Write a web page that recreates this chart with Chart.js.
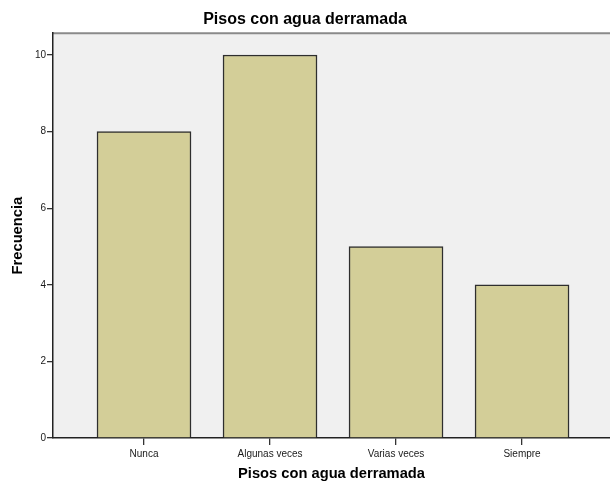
<!DOCTYPE html>
<html><head><meta charset="utf-8">
<script src="https://cdn.jsdelivr.net/npm/chart.js@4.4.0/dist/chart.umd.min.js"></script>
<style>html,body{margin:0;padding:0;background:#fff;}</style>
</head><body>
<canvas id="c" width="610" height="483"></canvas>
<script>
const categories = ['Nunca', 'Algunas veces', 'Varias veces', 'Siempre'];
const frequencies = [8, 10, 5, 4];
const yTickValues = [0, 2, 4, 6, 8, 10];
const chartTitle = 'Pisos con agua derramada';
const xAxisTitle = 'Pisos con agua derramada';
const yAxisTitle = 'Frecuencia';

const FONT = "Arial, 'Liberation Sans', sans-serif";

const bgPlugin = {
  id: 'plotBg',
  beforeDraw(chart) {
    const {ctx, chartArea: a} = chart;
    ctx.save();
    ctx.fillStyle = '#f0f0f0';
    ctx.fillRect(a.left, a.top, a.right - a.left, a.bottom - a.top);
    ctx.strokeStyle = '#8a8a8a';
    ctx.lineWidth = 2;
    ctx.beginPath();
    ctx.moveTo(a.left, a.top);
    ctx.lineTo(a.right, a.top);
    ctx.stroke();
    ctx.restore();
  }
};

new Chart(document.getElementById('c'), {
  type: 'bar',
  data: {
    datasets: [{
      data: frequencies.map((v, i) => ({x: i, y: v})),
      backgroundColor: '#d3ce98',
      borderColor: '#2e2e2e',
      borderWidth: 1.5,
      barThickness: 94
    }]
  },
  options: {
    responsive: false,
    animation: false,
    devicePixelRatio: 1,
    layout: {padding: 0},
    plugins: {
      legend: {display: false},
      tooltip: {enabled: false},
      title: {
        display: true,
        text: chartTitle,
        color: '#000',
        font: {family: FONT, size: 16, weight: 'bold'},
        padding: {top: 10, bottom: 4}
      }
    },
    scales: {
      x: {
        type: 'linear',
        offset: false,
        min: -0.7222,
        max: 3.698,
        afterBuildTicks: s => { s.ticks = categories.map((_, i) => ({value: i})); },
        afterFit: s => { s.height = 45; },
        ticks: {
          callback: v => categories[v] ?? '',
          color: '#1a1a1a',
          font: {family: FONT, size: 10},
          padding: 3,
          maxRotation: 0,
          autoSkip: false
        },
        grid: {offset: false, drawOnChartArea: false, drawTicks: true, tickLength: 7, color: '#333', lineWidth: 1.3},
        border: {display: true, color: '#222', width: 1.5},
        title: {
          display: true,
          text: xAxisTitle,
          color: '#000',
          font: {family: FONT, size: 14.7, weight: 'bold'},
          padding: {top: 0, bottom: 0}
        }
      },
      y: {
        min: 0,
        max: 10.57,
        afterBuildTicks: s => { s.ticks = yTickValues.map(v => ({value: v})); },
        afterFit: s => { s.width = 53; },
        ticks: {
          color: '#1a1a1a',
          font: {family: FONT, size: 10},
          padding: 1
        },
        grid: {drawOnChartArea: false, drawTicks: true, tickLength: 6, color: '#333', lineWidth: 1.3},
        border: {display: true, color: '#222', width: 1.5},
        title: {
          display: true,
          text: yAxisTitle,
          color: '#000',
          font: {family: FONT, size: 14.7, weight: 'bold'},
          padding: {top: 9, bottom: 0}
        }
      }
    }
  },
  plugins: [bgPlugin]
});
</script>
</body></html>
